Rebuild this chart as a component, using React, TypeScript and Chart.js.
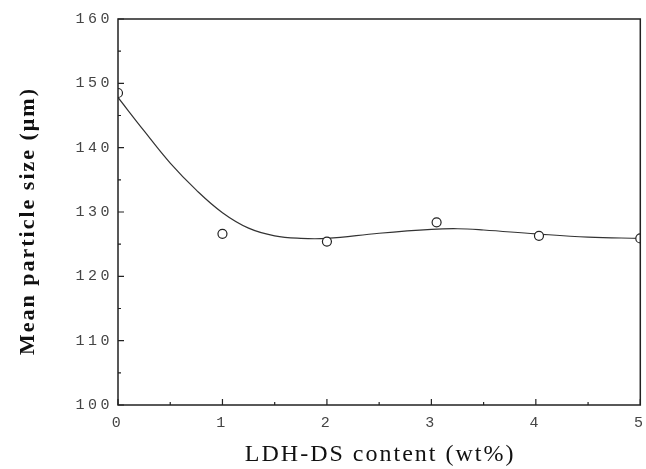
import React, { useEffect, useRef } from "react";
import { Chart, registerables } from "chart.js";

Chart.register(...registerables);

const measuredX = [0, 1, 2, 3.05, 4.03, 5];
const measuredY = [148.5, 126.6, 125.4, 128.4, 126.3, 125.9];

const fitX = [0, 0.25, 0.5, 0.75, 1, 1.25, 1.5, 1.75, 2, 2.5, 3, 3.25, 3.5, 4, 4.5, 5];
const fitY = [147.8, 142.6, 137.6, 133.4, 129.9, 127.5, 126.3, 125.9, 125.9, 126.7, 127.3, 127.4, 127.2, 126.6, 126.1, 125.9];

const xTicks = [0, 1, 2, 3, 4, 5];
const yTicks = [100, 110, 120, 130, 140, 150, 160];

const xTitle = "LDH-DS content (wt%)";
const yTitle = "Mean particle size (μm)";

const PLOT_LEFT = 118;
const PLOT_TOP = 19;
const PLOT_RIGHT = 643;
const PLOT_BOTTOM = 405;
const W = 646;
const H = 469;

const spacing = {
  id: "spacing",
  beforeDraw(chart: any) {
    chart.ctx.letterSpacing = "3.5px";
  },
};

const frameTicks = {
  id: "frameTicks",
  afterDatasetsDraw(chart: any) {
    const { ctx, chartArea: a, scales } = chart;
    const xs = scales.x;
    const ys = scales.y;
    ctx.save();
    ctx.strokeStyle = "#222";
    ctx.lineWidth = 1.5;
    ctx.strokeRect(a.left, a.top, a.right - a.left, a.bottom - a.top);
    ctx.lineWidth = 1.2;
    ctx.beginPath();
    for (let v = 0; v <= 5.0001; v += 0.5) {
      const px = xs.getPixelForValue(v);
      const major = Math.abs(v - Math.round(v)) < 1e-6;
      const len = major ? 6 : 3;
      ctx.moveTo(px, a.bottom);
      ctx.lineTo(px, a.bottom - len);
    }
    for (let v = 100; v <= 160.0001; v += 5) {
      const py = ys.getPixelForValue(v);
      const major = v % 10 === 0;
      const len = major ? 6 : 3;
      ctx.moveTo(a.left, py);
      ctx.lineTo(a.left + len, py);
    }
    ctx.stroke();
    ctx.restore();
  },
  afterDraw(chart: any) {
    const { ctx, chartArea: a } = chart;
    ctx.save();
    ctx.fillStyle = "#111";
    ctx.textAlign = "center";
    ctx.textBaseline = "middle";
    ctx.letterSpacing = "2px";
    ctx.font = "24px 'Liberation Serif'";
    ctx.fillText(xTitle, (a.left + a.right) / 2 + 1, 455);
    ctx.translate(28, 222);
    ctx.rotate(-Math.PI / 2);
    ctx.font = "bold 22px 'Liberation Serif'";
    ctx.fillText(yTitle, 1, 0);
    ctx.restore();
  },
};

export default function App() {
  const ref = useRef<HTMLCanvasElement | null>(null);
  useEffect(() => {
    if (!ref.current) return;
    const chart = new Chart(ref.current, {
      type: "scatter",
      data: {
        datasets: [
          {
            type: "line",
            data: fitX.map((x, i) => ({ x, y: fitY[i] })),
            borderColor: "#333",
            borderWidth: 1.2,
            pointRadius: 0,
            tension: 0.4,
            fill: false,
            order: 2,
          } as any,
          {
            type: "scatter",
            data: measuredX.map((x, i) => ({ x, y: measuredY[i] })),
            pointRadius: 4.5,
            pointBackgroundColor: "#fff",
            pointBorderColor: "#222",
            pointBorderWidth: 1.2,
            order: 1,
          },
        ],
      },
      options: {
        animation: false,
        responsive: false,
        maintainAspectRatio: false,
        layout: { padding: { top: PLOT_TOP, right: W - PLOT_RIGHT, left: 0, bottom: 0 } },
        plugins: { legend: { display: false }, tooltip: { enabled: false } },
        scales: {
          x: {
            type: "linear",
            min: 0,
            max: 5,
            grid: { display: false, drawTicks: false },
            border: { display: false },
            afterBuildTicks: (s: any) => {
              s.ticks = xTicks.map((v) => ({ value: v }));
            },
            afterFit: (s: any) => {
              s.height = H - PLOT_BOTTOM;
              s.paddingLeft = 0;
              s.paddingRight = 0;
            },
            ticks: {
              color: "#444",
              padding: 9,
              font: { family: "Liberation Mono", size: 15 },
              maxRotation: 0,
            },
          },
          y: {
            type: "linear",
            min: 100,
            max: 160,
            grid: { display: false, drawTicks: false },
            border: { display: false },
            afterBuildTicks: (s: any) => {
              s.ticks = yTicks.map((v) => ({ value: v }));
            },
            afterFit: (s: any) => {
              s.width = PLOT_LEFT;
              s.paddingTop = 0;
              s.paddingBottom = 0;
            },
            ticks: {
              color: "#444",
              padding: 5,
              font: { family: "Liberation Mono", size: 15 },
            },
          },
        },
      },
      plugins: [spacing, frameTicks],
    });
    return () => chart.destroy();
  }, []);
  return (
    <div style={{ position: "fixed", left: 0, top: 0, width: W, height: H, background: "#fff" }}>
      <canvas ref={ref} width={W} height={H} style={{ width: W, height: H, display: "block" }} />
    </div>
  );
}
